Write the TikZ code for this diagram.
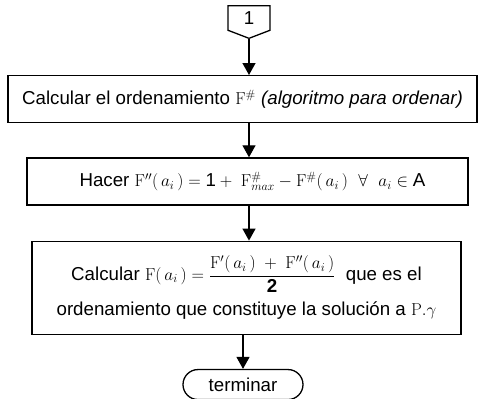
\documentclass[tikz,border=0pt]{standalone}
\usepackage{amsmath,amssymb}
\usepackage[no-math]{fontspec}
\setmainfont{Liberation Sans}
\usepackage{tikz}
\usetikzlibrary{arrows.meta,positioning,shapes.symbols}

\begin{document}
\begin{tikzpicture}[
  x=1pt, y=1pt,
  node distance=35pt,
  box/.style={draw, line width=1.3pt, minimum height=47pt, font=\fontsize{18.7}{22}\selectfont, align=center, inner sep=2pt},
  conn/.style={draw, line width=1.3pt, shape=signal, signal to=south, signal pointer angle=138, minimum width=42pt, minimum height=27pt, font=\fontsize{18.7}{22}\selectfont, inner sep=1pt},
  termbox/.style={draw, line width=1.3pt, rounded corners=15pt, minimum width=120pt, minimum height=30pt, font=\fontsize{18.7}{22}\selectfont},
  arr/.style={-{Triangle[length=12pt, width=13pt]}, line width=1.3pt},
]
  \useasboundingbox (0,0) rectangle (480,-399);

  % Row 1: connector
  \node[conn, anchor=north] (start) at (249,-5) {1};

  % Row 2: ordering
  \node[box, anchor=north, minimum width=469pt] (orden) at (242.5,-75) {Calcular el ordenamiento $\mathrm{F}^{\#}$ \textit{(algoritmo para ordenar)}};

  % Row 3: F''
  \node[box, below=34pt of orden, xshift=5pt, minimum width=441pt] (hacer) {\hspace*{10pt}Hacer $\mathrm{F}''(\,a_i\,) = \text{1}+\;\mathrm{F}^{\#}_{max} - \mathrm{F}^{\#}(\,a_i\,)\ \ \forall\ \ a_i \in \text{A}$};

  % Row 4: F
  \node[box, below=35pt of hacer, xshift=-1pt, minimum width=429pt, minimum height=93pt] (calc) {Calcular $\mathrm{F}(\,a_i\,) = \dfrac{\mathrm{F}'(\,a_i\,) \;+\; \mathrm{F}''(\,a_i\,)}{\text{\bfseries 2}}$ \ que es el\\[9pt]ordenamiento que constituye la soluci\'on a $\mathrm{P}.\gamma$};

  % Row 5: end
  \node[termbox, below=34pt of calc, xshift=-3.5pt] (fin) {terminar};

  % Arrows
  \draw[arr] (start.south) -- (start.south |- orden.north);
  \draw[arr] (start.south |- orden.south) -- (start.south |- hacer.north);
  \draw[arr] (start.south |- hacer.south) -- (start.south |- calc.north);
  \draw[arr] (fin.north |- calc.south) -- (fin.north);
\end{tikzpicture}
\end{document}
